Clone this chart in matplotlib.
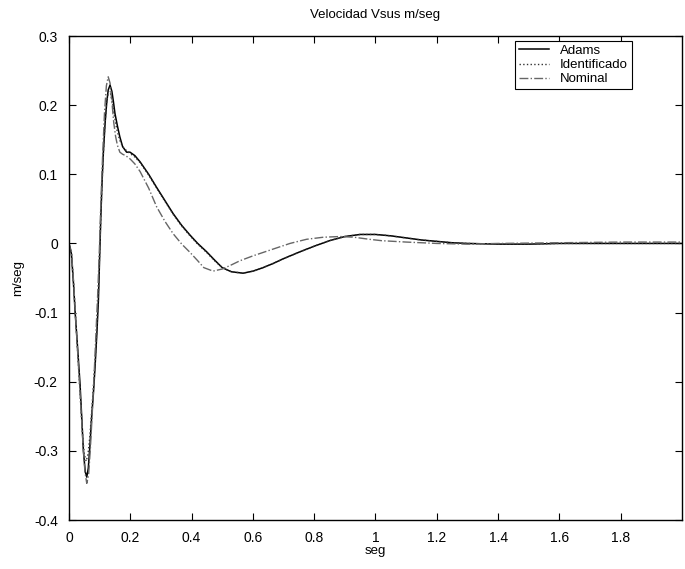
import matplotlib.pyplot as plt

plt.rcParams['font.family'] = ['Liberation Sans Narrow', 'Liberation Sans', 'DejaVu Sans']

# Adams (simulación)
t_adams = [0.000, 0.008, 0.015, 0.020, 0.028, 0.036, 0.042, 0.047, 0.053, 0.058,
           0.063, 0.068, 0.074, 0.080, 0.085, 0.091, 0.096, 0.100, 0.104, 0.108,
           0.112, 0.118, 0.123, 0.128, 0.134, 0.140, 0.145, 0.150, 0.158, 0.166,
           0.175, 0.188, 0.199, 0.215, 0.232, 0.260, 0.286, 0.313, 0.340, 0.368,
           0.395, 0.420, 0.449, 0.475, 0.500, 0.530, 0.568, 0.601, 0.633, 0.666,
           0.700, 0.754, 0.800, 0.850, 0.900, 0.950, 1.000, 1.050, 1.100, 1.150,
           1.200, 1.250, 1.300, 1.400, 1.500, 1.600, 1.800, 2.000]
v_adams = [0.000, -0.015, -0.060, -0.099, -0.150, -0.203, -0.255, -0.300, -0.330, -0.338,
           -0.325, -0.295, -0.251, -0.215, -0.179, -0.130, -0.082, -0.020, 0.040, 0.090,
           0.130, 0.175, 0.203, 0.222, 0.229, 0.220, 0.205, 0.188, 0.170, 0.154,
           0.140, 0.132, 0.132, 0.127, 0.118, 0.100, 0.081, 0.062, 0.043, 0.026,
           0.012, 0.000, -0.012, -0.024, -0.035, -0.041, -0.043, -0.040, -0.035, -0.029,
           -0.022, -0.012, -0.004, 0.004, 0.010, 0.013, 0.013, 0.011, 0.008, 0.005,
           0.003, 0.001, 0.000, -0.001, -0.001, 0.000, 0.000, 0.000]

# Identificado
t_ident = [0.000, 0.008, 0.015, 0.022, 0.030, 0.038, 0.045, 0.050, 0.056, 0.062,
           0.068, 0.074, 0.080, 0.086, 0.092, 0.097, 0.101, 0.106, 0.111, 0.117,
           0.123, 0.129, 0.135, 0.141, 0.148, 0.156, 0.165, 0.175, 0.188, 0.200,
           0.215, 0.232, 0.260, 0.286, 0.313, 0.340, 0.368, 0.395, 0.420, 0.449,
           0.475, 0.500, 0.530, 0.568, 0.601, 0.633, 0.666, 0.700, 0.754, 0.800,
           0.850, 0.900, 0.950, 1.000, 1.050, 1.100, 1.150, 1.200, 1.250, 1.300,
           1.400, 1.500, 1.600, 1.800, 2.000]
v_ident = [0.000, -0.015, -0.058, -0.110, -0.170, -0.230, -0.280, -0.305, -0.315, -0.305,
           -0.280, -0.243, -0.205, -0.165, -0.115, -0.060, 0.000, 0.065, 0.120, 0.170,
           0.205, 0.220, 0.218, 0.205, 0.185, 0.165, 0.150, 0.140, 0.134, 0.130,
           0.125, 0.117, 0.099, 0.080, 0.061, 0.042, 0.025, 0.011, -0.001, -0.013,
           -0.025, -0.035, -0.041, -0.043, -0.040, -0.035, -0.029, -0.022, -0.012, -0.004,
           0.004, 0.010, 0.013, 0.013, 0.011, 0.008, 0.005, 0.003, 0.001, 0.000,
           -0.001, -0.001, 0.000, 0.000, 0.000]

# Nominal
t_nom = [0.000, 0.008, 0.015, 0.022, 0.030, 0.038, 0.045, 0.052, 0.058, 0.064,
         0.070, 0.076, 0.082, 0.088, 0.094, 0.099, 0.104, 0.110, 0.116, 0.122,
         0.128, 0.134, 0.140, 0.146, 0.152, 0.158, 0.166, 0.175, 0.185, 0.200,
         0.215, 0.232, 0.260, 0.286, 0.313, 0.340, 0.368, 0.395, 0.420, 0.440,
         0.470, 0.500, 0.530, 0.558, 0.600, 0.667, 0.721, 0.775, 0.830, 0.884,
         0.930, 0.980, 1.020, 1.100, 1.200, 1.300, 1.400, 1.600, 1.800, 2.000]
v_nom = [0.000, -0.012, -0.055, -0.110, -0.170, -0.230, -0.285, -0.330, -0.347, -0.335,
         -0.295, -0.245, -0.190, -0.130, -0.070, -0.010, 0.060, 0.130, 0.190, 0.228,
         0.241, 0.232, 0.205, 0.175, 0.155, 0.142, 0.132, 0.129, 0.127, 0.122,
         0.115, 0.104, 0.080, 0.053, 0.032, 0.014, -0.001, -0.013, -0.025, -0.035,
         -0.040, -0.037, -0.031, -0.025, -0.018, -0.008, 0.000, 0.006, 0.009, 0.010,
         0.009, 0.006, 0.004, 0.002, 0.000, -0.001, 0.000, 0.001, 0.002, 0.002]

fig = plt.figure(figsize=(6.85, 5.69), dpi=100)
ax = fig.add_axes([0.1007, 0.0861, 0.8949, 0.8506])

ax.plot(t_adams, v_adams, color='black', lw=1.1, ls='-', label='Adams')
ax.plot(t_ident, v_ident, color='#333333', lw=1.0, ls=':', label='Identificado')
ax.plot(t_nom, v_nom, color='#666666', lw=1.0, ls='-.', label='Nominal')

ax.set_xlim(0, 2)
ax.set_ylim(-0.4, 0.3)
ax.set_xticks([0, 0.2, 0.4, 0.6, 0.8, 1, 1.2, 1.4, 1.6, 1.8])
ax.set_xticklabels(['0', '0.2', '0.4', '0.6', '0.8', '1', '1.2', '1.4', '1.6', '1.8'])
ax.set_yticks([-0.4, -0.3, -0.2, -0.1, 0, 0.1, 0.2, 0.3])
ax.set_yticklabels(['-0.4', '-0.3', '-0.2', '-0.1', '0', '0.1', '0.2', '0.3'])
ax.tick_params(direction='in', top=True, right=True, length=5, labelsize=10, width=0.8, pad=8)
for s in ax.spines.values():
    s.set_linewidth(1.0)

ax.set_title('Velocidad Vsus m/seg', fontsize=9.5, pad=13)
ax.set_xlabel('seg', fontsize=9.5, labelpad=0)
ax.set_ylabel('m/seg', fontsize=9.5, labelpad=7)

leg = ax.legend(loc='upper right', bbox_to_anchor=(0.918, 0.99), borderaxespad=0,
                fontsize=9.5, fancybox=False, framealpha=1, edgecolor='black',
                handlelength=2.3, labelspacing=0.15, borderpad=0.3, handletextpad=0.8)
leg.get_frame().set_linewidth(0.8)

fig.savefig('out.png', dpi=100)
